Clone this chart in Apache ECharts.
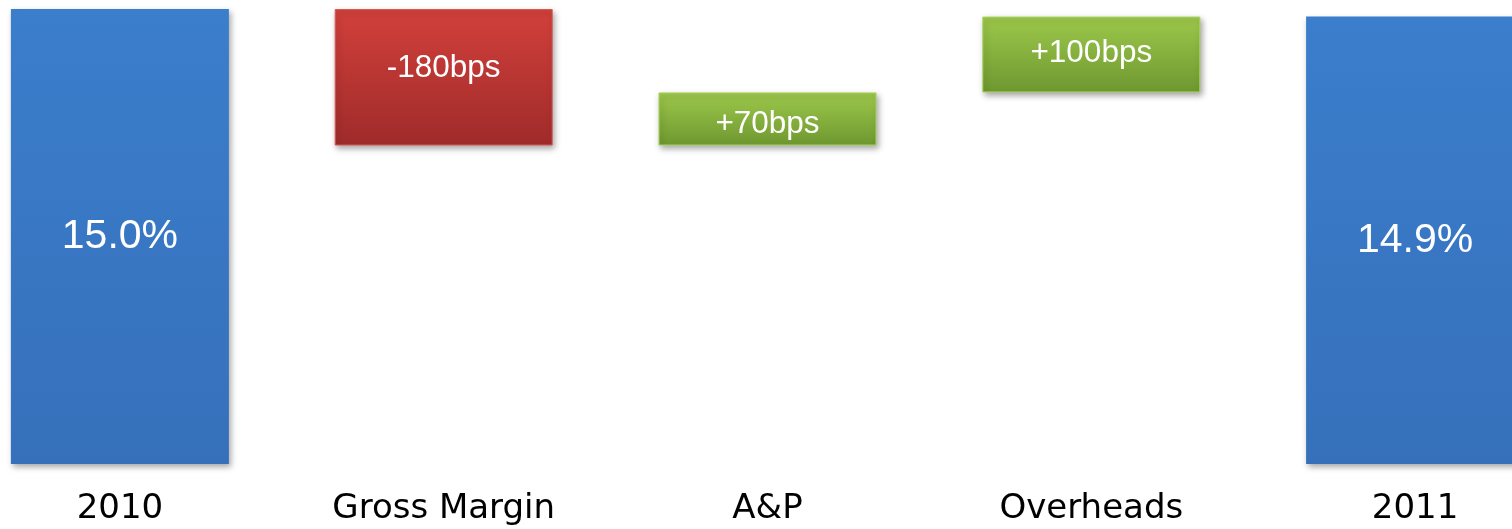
<!DOCTYPE html>
<html>
<head>
<meta charset="utf-8">
<script src="https://cdn.jsdelivr.net/npm/echarts@6/dist/echarts.min.js"></script>
<style>
  html, body { margin: 0; padding: 0; background: #ffffff; overflow: hidden; }
  body { position: relative; width: 1512px; height: 529px; }
  /* plot runs slightly past both page edges */
  #chart { position: absolute; left: -42px; top: 0; width: 1619px; height: 529px; }
</style>
</head>
<body>
<div id="chart"></div>
<script>
// EBIT margin bridge, 2010 -> 2011
const categories = ['2010', 'Gross Margin', 'A&P', 'Overheads', '2011'];
const startMargin = 15.0;               // % in 2010
const changes = [-1.8, 0.7, 1.0];       // percentage points per driver
const endMargin = 14.9;                 // % in 2011
const labelOffsets = [0, -9, 5, -1, 0]; // vertical nudge of value labels

// Build waterfall pieces from the running level
const baseData = [null];
const deltaData = ['-'];
const totalData = [startMargin];
let level = startMargin;
changes.forEach(function (c) {
  const lo = Math.min(level, level + c);
  baseData.push(+lo.toFixed(2));
  deltaData.push({ value: +Math.abs(c).toFixed(2), change: c });
  totalData.push('-');
  level += c;
});
baseData.push(null);
deltaData.push('-');
totalData.push(endMargin);

function grad(top, bottom) {
  return new echarts.graphic.LinearGradient(0, 0, 0, 1, [
    { offset: 0, color: top },
    { offset: 1, color: bottom }
  ]);
}

const redFill = grad('#d2403b', '#9f2b2a');
const greenFill = grad('#9dc84b', '#6e9830');
const blueFill = grad('#3b7ecc', '#3670bb');

const shadow = {
  shadowBlur: 6,
  shadowOffsetX: 2,
  shadowOffsetY: 3,
  shadowColor: 'rgba(0,0,0,0.35)'
};

const deltaSeriesData = deltaData.map(function (d, i) {
  if (d === '-') return '-';
  const neg = d.change < 0;
  return {
    value: d.value,
    itemStyle: Object.assign({
      color: neg ? redFill : greenFill,
      borderColor: neg ? '#d65a57' : '#a9d35e',
      borderWidth: 1
    }, shadow),
    label: {
      offset: [0, labelOffsets[i]],
      formatter: (neg ? '-' : '+') + Math.round(Math.abs(d.change) * 100) + 'bps'
    }
  };
});

const chart = echarts.init(document.getElementById('chart'), null, { renderer: 'canvas' });
chart.setOption({
  animation: false,
  backgroundColor: '#ffffff',
  grid: { left: 0, right: 0, top: 9, bottom: 65, containLabel: false },
  xAxis: {
    type: 'category',
    data: categories,
    axisLine: { show: false },
    axisTick: { show: false },
    splitLine: { show: false },
    axisLabel: {
      color: '#000000',
      fontFamily: 'DejaVu Sans',
      fontSize: 34,
      margin: 45,
      verticalAlign: 'middle',
      interval: 0
    }
  },
  yAxis: {
    type: 'value',
    min: 9,
    max: 15,
    show: false,
    splitLine: { show: false }
  },
  series: [
    {
      name: 'base',
      type: 'bar',
      stack: 'bridge',
      barWidth: 218,
      itemStyle: { color: 'transparent' },
      silent: true,
      data: baseData
    },
    {
      name: 'change',
      type: 'bar',
      stack: 'bridge',
      barWidth: 218,
      label: {
        show: true,
        position: 'inside',
        color: '#ffffff',
        fontFamily: 'Liberation Sans',
        fontSize: 31.5
      },
      data: deltaSeriesData
    },
    {
      name: 'total',
      type: 'bar',
      barWidth: 218,
      barGap: '-100%',
      itemStyle: Object.assign({ color: blueFill }, shadow),
      label: {
        show: true,
        position: 'inside',
        color: '#ffffff',
        fontFamily: 'Liberation Sans',
        fontSize: 41,
        formatter: function (p) { return p.value.toFixed(1) + '%'; }
      },
      data: totalData
    }
  ]
});
</script>
</body>
</html>
